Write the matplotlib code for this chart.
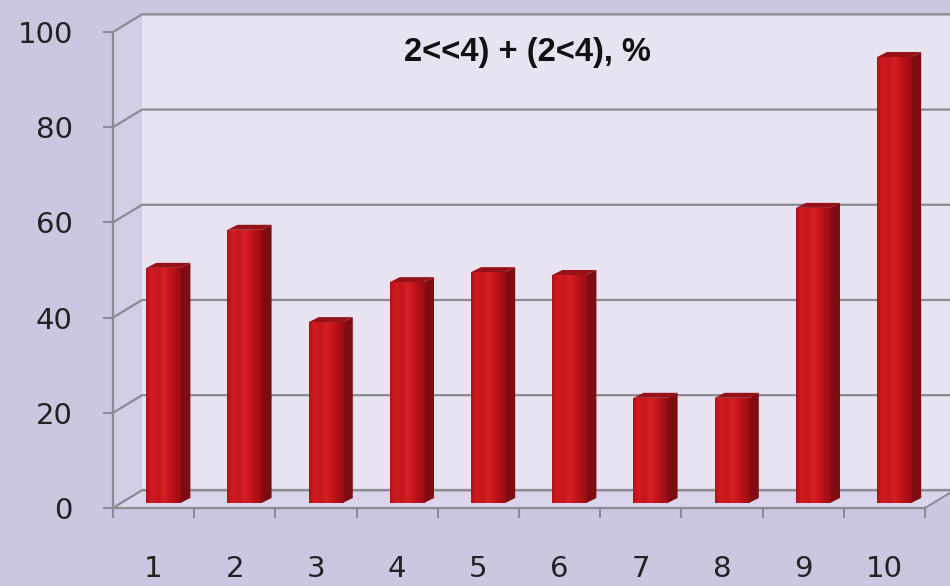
import numpy as np
import matplotlib
matplotlib.use("Agg")
import matplotlib.pyplot as plt
from matplotlib.patches import Polygon, Rectangle
from matplotlib.colors import LinearSegmentedColormap

# ---- data ----
categories = [1, 2, 3, 4, 5, 6, 7, 8, 9, 10]
values = [49.4, 57.4, 38.0, 46.4, 48.5, 47.9, 22.1, 22.1, 62.0, 93.7]
y_ticks = [0, 20, 40, 60, 80, 100]
title_text = "2<<4) + (2<4), %"

# ---- styling ----
outer_bg = "#CCC6E0"
back_wall = "#E7E3F0"
side_wall = "#D3CDE5"
floor_col = "#DAD5EA"
grid_col = "#8C8A93"
text_col = "#222222"

# depth of the chart box (x in category units, y in value units)
box_dx, box_dy = 0.357, 3.7
# bars sit part way into the box
bar_shift_x, bar_shift_y = 0.12, 1.05
bar_width = 0.42
bar_dx, bar_dy = 0.123, 1.05

fig = plt.figure(figsize=(9.5, 5.86), dpi=100, facecolor=outer_bg)
ax = fig.add_axes([113 / 950, 78 / 586, 812 / 950, 476 / 586])
ax.set_facecolor("none")
xlim = (0.5, 10.5)
ylim = (0, 100)

# back wall, side wall and floor of the chart box
x_far = 12.0
ax.add_patch(Polygon([(xlim[0] + box_dx, box_dy), (x_far, box_dy),
                      (x_far, 100 + box_dy), (xlim[0] + box_dx, 100 + box_dy)],
                     closed=True, facecolor=back_wall, edgecolor="none",
                     zorder=0, clip_on=False))
ax.add_patch(Polygon([(xlim[0], 0), (xlim[0], 100),
                      (xlim[0] + box_dx, 100 + box_dy), (xlim[0] + box_dx, box_dy)],
                     closed=True, facecolor=side_wall, edgecolor="none",
                     zorder=0.5, clip_on=False))

# gridlines on back wall with their diagonals on the side wall
for v in y_ticks:
    ax.plot([xlim[0], xlim[0] + box_dx, x_far], [v, v + box_dy, v + box_dy],
            color=grid_col, lw=1.6, zorder=1, clip_on=False,
            solid_capstyle="butt")

ax.add_patch(Polygon([(xlim[0], 0), (xlim[1], 0),
                      (xlim[1] + box_dx, box_dy), (xlim[0] + box_dx, box_dy)],
                     closed=True, facecolor=floor_col, edgecolor=grid_col,
                     lw=1.4, zorder=1.5, clip_on=False))
ax.plot([xlim[0] + box_dx, xlim[1] + box_dx], [box_dy, box_dy],
        color=grid_col, lw=1.6, zorder=1.6, clip_on=False)

# bars: front face with a soft cylindrical sheen, plus side and top faces
face_cmap = LinearSegmentedColormap.from_list("bar_face", [
    (0.00, (0.70, 0.07, 0.09)),
    (0.15, (0.81, 0.11, 0.13)),
    (0.35, (0.77, 0.09, 0.11)),
    (0.50, (0.84, 0.13, 0.15)),
    (0.70, (0.76, 0.08, 0.10)),
    (0.86, (0.67, 0.06, 0.09)),
    (1.00, (0.60, 0.05, 0.07)),
])
grad = np.linspace(0, 1, 64).reshape(1, -1)

for c, v in zip(categories, values):
    x0 = c + bar_shift_x - bar_width / 2
    x1 = x0 + bar_width
    y0 = bar_shift_y
    y1 = bar_shift_y + v
    # side face
    ax.add_patch(Polygon([(x1, y0), (x1 + bar_dx, y0 + bar_dy),
                          (x1 + bar_dx, y1 + bar_dy), (x1, y1)],
                         closed=True, facecolor="#7E0C10", edgecolor="none",
                         zorder=3))
    # top face
    ax.add_patch(Polygon([(x0, y1), (x1, y1), (x1 + bar_dx, y1 + bar_dy),
                          (x0 + bar_dx, y1 + bar_dy)],
                         closed=True, facecolor="#961217", edgecolor="none",
                         zorder=3))
    # front face
    front = Rectangle((x0, y0), bar_width, v, facecolor="none",
                      edgecolor="none", zorder=4)
    ax.add_patch(front)
    im = ax.imshow(grad, cmap=face_cmap, extent=(x0, x1, y0, y1),
                   aspect="auto", zorder=4, interpolation="bilinear")
    im.set_clip_path(front)

ax.set_xlim(*xlim)
ax.set_ylim(*ylim)

# axes lines and ticks
for side in ("top", "right"):
    ax.spines[side].set_visible(False)
for side in ("left", "bottom"):
    ax.spines[side].set_color(grid_col)
    ax.spines[side].set_linewidth(1.6)
    ax.spines[side].set_zorder(5)

ax.set_yticks(y_ticks)
ax.set_yticklabels([str(t) for t in y_ticks])
ax.tick_params(axis="y", direction="out", length=7, width=1.5,
               color=grid_col, pad=22, labelsize=21, labelcolor=text_col)

ax.set_xticks(categories)
ax.set_xticklabels([str(c) for c in categories])
ax.set_xticks(np.arange(xlim[0], xlim[1] + 0.01, 1.0), minor=True)
ax.tick_params(axis="x", which="major", length=0, pad=34,
               labelsize=21, labelcolor=text_col)
ax.tick_params(axis="x", which="minor", direction="out", length=7,
               width=1.5, color=grid_col)

for lab in ax.get_xticklabels() + ax.get_yticklabels():
    lab.set_fontfamily("DejaVu Sans")

fig.text(527 / 950, 1 - 53 / 586, title_text, ha="center", va="center",
         fontsize=23.5, fontweight="bold",
         family=["Liberation Sans", "DejaVu Sans"], color="#111111")

fig.savefig("out.png", dpi=100, facecolor=outer_bg)
